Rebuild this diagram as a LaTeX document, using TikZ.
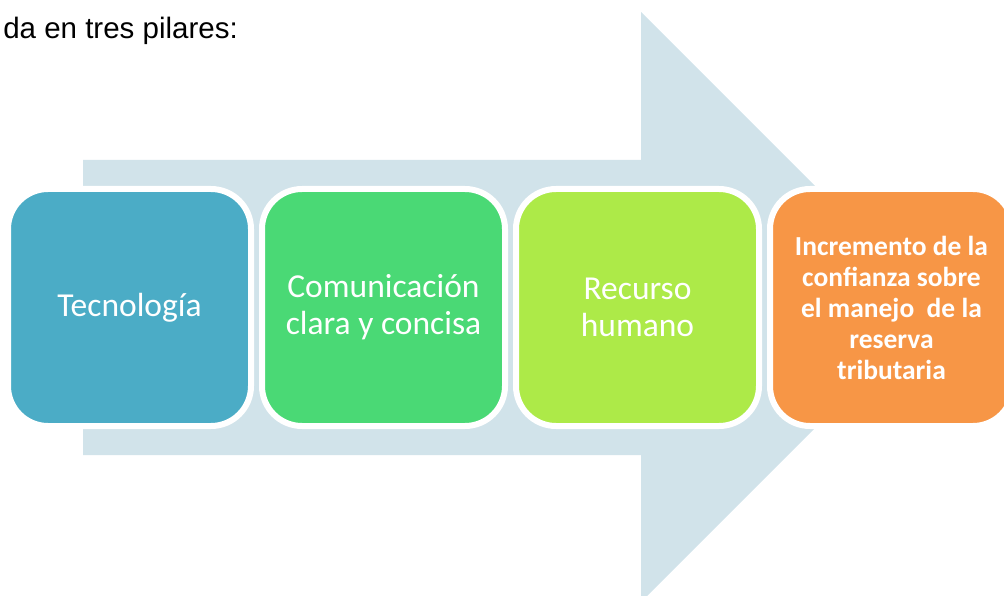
\documentclass[tikz,border=0pt]{standalone}
\usepackage{fontspec}
\setmainfont{Carlito}
\newfontfamily\arialfont{Liberation Sans}
\usetikzlibrary{positioning}
\definecolor{flecha}{HTML}{D1E3EA}
\definecolor{azul}{HTML}{4BACC6}
\definecolor{verde}{HTML}{4AD975}
\definecolor{lima}{HTML}{ADEA48}
\definecolor{naranja}{HTML}{F79646}
\begin{document}
\begin{tikzpicture}[x=1pt,y=-1pt,line join=round,
	pilar/.style={draw=white,line width=6pt,rounded corners=40pt,minimum width=243pt,minimum height=237pt,
		align=center,text=white,font=\fontsize{33.5}{37}\selectfont},
	meta/.style={pilar,font=\bfseries\fontsize{27.5}{31}\selectfont}]
			\useasboundingbox (0,0) rectangle (1004,596);
			\clip (0,0) rectangle (1004,596);
			\fill[flecha] (83,160)--(641,160)--(641,12)--(936,307)--(641,602)--(641,455)--(83,455)--cycle;
			\node[anchor=base east,inner sep=0pt,font=\arialfont\fontsize{29.5}{34}\selectfont] (titulo) at (238,39) {da en tres pilares:};
			\node[pilar,fill=azul] (tec) at (129.5,307.5) {Tecnología};
			\node[pilar,fill=verde,right=5pt of tec] (com) {Comunicación\\clara y concisa};
			\node[pilar,fill=lima,right=5pt of com] (rec) {Recurso\\humano};
			\node[meta,fill=naranja,right=5pt of rec] (inc) {Incremento de la\\confianza sobre\\el manejo~ de la\\reserva\\tributaria};
			\end{tikzpicture}
\end{document}
